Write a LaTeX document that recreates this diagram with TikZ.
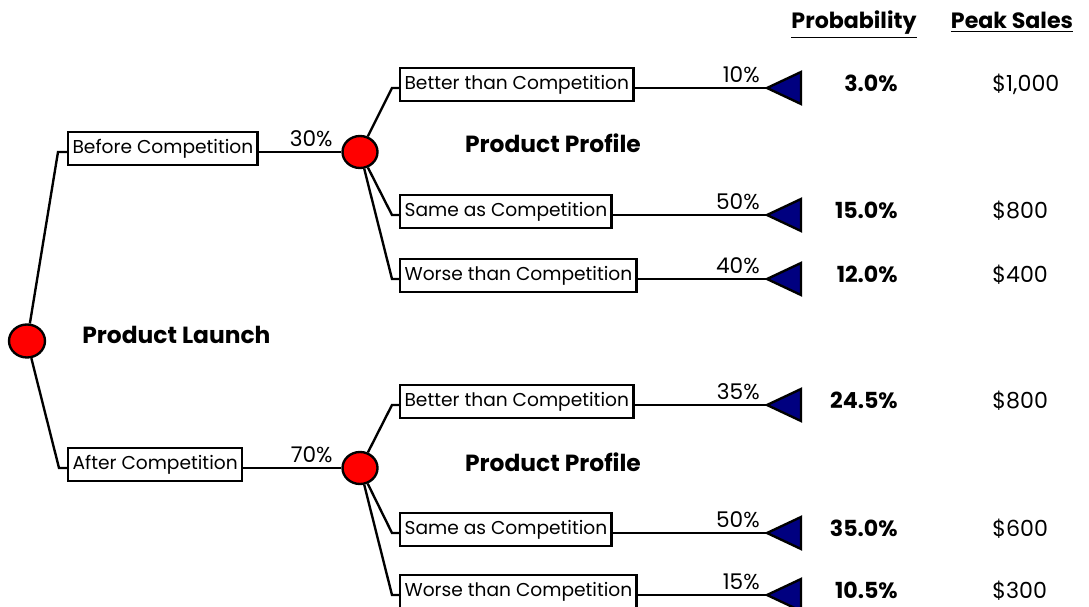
\documentclass[tikz,border=0pt]{standalone}
\usepackage{fontspec}
\setmainfont{Poppins}
\usetikzlibrary{shapes.geometric}
\definecolor{chanceRed}{RGB}{255,0,0}
\definecolor{leafNavy}{RGB}{0,0,128}
\tikzset{
    chance/.style={ellipse,draw=black,line width=1.35pt,fill=chanceRed,minimum width=0.7cm,minimum height=0.64cm,inner sep=0pt},
    option/.style={rectangle,draw=black,line width=1.35pt,fill=white,anchor=west,inner xsep=2.5pt,inner ysep=0pt,minimum height=0.66cm,font=\fontsize{10.6}{12}\selectfont},
    branch/.style={line width=1.35pt},
    leaf/.style={draw=black,line width=1.35pt,fill=leafNavy},
    prob/.style={anchor=base east,inner sep=0pt,font=\fontsize{12.3}{14}\selectfont},
    title/.style={inner sep=0pt,font=\fontsize{13.3}{15}\selectfont\bfseries},
    joint/.style={anchor=base east,inner sep=0pt,font=\fontsize{12.6}{14}\selectfont\bfseries},
    payoff/.style={anchor=base west,inner sep=0pt,font=\fontsize{12.6}{14}\selectfont},
    header/.style={anchor=base,inner sep=0pt,font=\fontsize{12.6}{14}\selectfont\bfseries}
}

\begin{document}
\begin{tikzpicture}[x=0.02cm,y=-0.02cm]
  \useasboundingbox (0,0) rectangle (1089,607);

  % decision tree
  \node[chance,minimum width=0.72cm,minimum height=0.66cm] (root) at (27,341) {};
  \node[title,anchor=west] (launch) at (82,335) {Product Launch};

  \coordinate (eBefore) at (58,152);
  \coordinate (eAfter) at (59,468);
  \node[option] (before) at (67,148.5) {Before Competition};
  \node[option] (after) at (67,464.5) {After Competition};
  \node[chance] (c1) at (360,152) {};
  \node[chance] (c2) at (360,468) {};
  \draw[branch] (root) -- (eBefore) -- (before.west |- eBefore);
  \draw[branch] (root) -- (eAfter) -- (after.west |- eAfter);
  \draw[branch] (before.east |- eBefore) -- (c1);
  \draw[branch] (after.east |- eAfter) -- (c2);
  \node[prob] (p1) at (333,147) {30\%};
  \node[prob] (p2) at (333,463) {70\%};

  \node[title] (profile1) at (553,143) {Product Profile};
  \node[title] (profile2) at (553,462) {Product Profile};

  % upper branch
  \coordinate (e11) at (392,88);
  \coordinate (e12) at (392,215);
  \coordinate (e13) at (392,279);
  \node[option] (b11) at (399,84.5) {Better than Competition};
  \node[option] (b12) at (399,211.5) {Same as Competition};
  \node[option] (b13) at (399,275.5) {Worse than Competition};
  \coordinate (t11) at (767,88);
  \coordinate (t12) at (767,215);
  \coordinate (t13) at (767,279);
  \draw[branch] (c1) -- (e11) -- (b11.west |- e11);
  \draw[branch] (c1) -- (e12) -- (b12.west |- e12);
  \draw[branch] (c1) -- (e13) -- (b13.west |- e13);
  \draw[branch] (b11.east |- e11) -- (t11);
  \draw[branch] (b12.east |- e12) -- (t12);
  \draw[branch] (b13.east |- e13) -- (t13);

  % lower branch
  \coordinate (e21) at (392,405);
  \coordinate (e22) at (392,533);
  \coordinate (e23) at (392,595);
  \node[option] (b21) at (399,401.5) {Better than Competition};
  \node[option] (b22) at (399,529.5) {Same as Competition};
  \node[option] (b23) at (399,591.5) {Worse than Competition};
  \coordinate (t21) at (767,405);
  \coordinate (t22) at (767,533);
  \coordinate (t23) at (767,595);
  \draw[branch] (c2) -- (e21) -- (b21.west |- e21);
  \draw[branch] (c2) -- (e22) -- (b22.west |- e22);
  \draw[branch] (c2) -- (e23) -- (b23.west |- e23);
  \draw[branch] (b21.east |- e21) -- (t21);
  \draw[branch] (b22.east |- e22) -- (t22);
  \draw[branch] (b23.east |- e23) -- (t23);

  % end points
  \draw[leaf] (t11) -- ++(34,-16) -- ++(0,32) -- cycle;
  \draw[leaf] (t12) -- ++(34,-16) -- ++(0,32) -- cycle;
  \draw[leaf] (t13) -- ++(34,-16) -- ++(0,32) -- cycle;
  \draw[leaf] (t21) -- ++(34,-16) -- ++(0,32) -- cycle;
  \draw[leaf] (t22) -- ++(34,-16) -- ++(0,32) -- cycle;
  \draw[leaf] (t23) -- ++(34,-16) -- ++(0,32) -- cycle;

  \node[prob] (p11) at (760,83) {10\%};
  \node[prob] (p12) at (760,210) {50\%};
  \node[prob] (p13) at (760,274) {40\%};
  \node[prob] (p21) at (760,400) {35\%};
  \node[prob] (p22) at (760,528) {50\%};
  \node[prob] (p23) at (760,590) {15\%};

  % table
  \node[header] (hProb) at (854,29) {\underline{Probability}};
  \node[header] (hSales) at (1012,29) {\underline{Peak Sales}};
  \node[joint] (j11) at (898,92) {3.0\%};
  \node[joint] (j12) at (898,219) {15.0\%};
  \node[joint] (j13) at (898,283) {12.0\%};
  \node[joint] (j21) at (898,409) {24.5\%};
  \node[joint] (j22) at (898,537) {35.0\%};
  \node[joint] (j23) at (898,599) {10.5\%};
  \node[payoff] (s11) at (992,92) {\$1,000};
  \node[payoff] (s12) at (992,219) {\$800};
  \node[payoff] (s13) at (992,283) {\$400};
  \node[payoff] (s21) at (992,409) {\$800};
  \node[payoff] (s22) at (992,537) {\$600};
  \node[payoff] (s23) at (992,599) {\$300};
\end{tikzpicture}
\end{document}
